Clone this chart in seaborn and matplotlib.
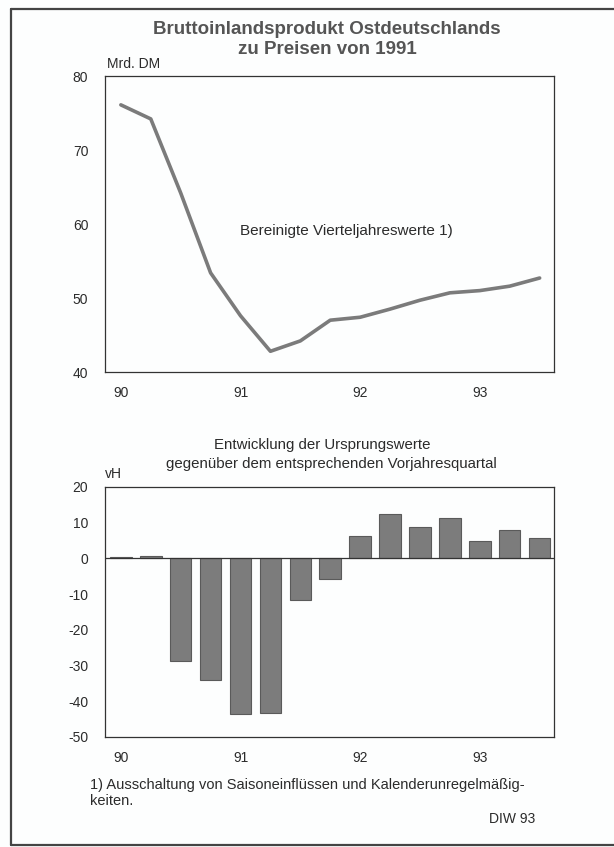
import seaborn as sns
import pandas as pd
import matplotlib.pyplot as plt
from matplotlib.lines import Line2D

quarters = ['90Q1', '90Q2', '90Q3', '90Q4', '91Q1', '91Q2', '91Q3', '91Q4',
            '92Q1', '92Q2', '92Q3', '92Q4', '93Q1', '93Q2', '93Q3']
gdp = [76.1, 74.2, 64.2, 53.4, 47.6, 42.8, 44.2, 47.0, 47.4, 48.5, 49.7, 50.7, 51.0, 51.6, 52.7]
change = [0.5, 0.8, -28.8, -34.1, -43.7, -43.4, -11.7, -5.7, 6.4, 12.3, 8.9, 11.4, 4.9, 7.9, 5.6]
year_labels = ['90', '91', '92', '93']

sns.set_style('white')
plt.rcParams['font.family'] = ['Liberation Sans', 'DejaVu Sans']
plt.rcParams['axes.unicode_minus'] = False

df = pd.DataFrame({'quarter': quarters, 'pos': range(len(quarters)),
                   'gdp': gdp, 'change': change})

W, H = 614, 847
fig = plt.figure(figsize=(W / 100, H / 100), dpi=100)
fig.patch.set_facecolor('#fdfefe')


def box(left, top, right, bottom):
    return [left / W, 1 - bottom / H, (right - left) / W, (bottom - top) / H]


ax1 = fig.add_axes(box(105, 76, 554, 372))
ax2 = fig.add_axes(box(105, 487, 554, 737))

txt = '#2b2b2b'
spine_c = '#333333'

sns.lineplot(data=df, x='pos', y='gdp', ax=ax1, color='#7b7b7b', linewidth=2.6)
sns.barplot(data=df, x='quarter', y='change', ax=ax2, color='#7c7c7c',
            edgecolor='#5a5a5a', linewidth=0.8, width=0.72, saturation=1)
ax2.axhline(0, color=spine_c, linewidth=0.9)

for ax in (ax1, ax2):
    ax.set_facecolor('#fdfefe')
    ax.set_xlim(-0.53, 14.48)
    ax.set_xlabel('')
    ax.set_ylabel('')
    for s in ax.spines.values():
        s.set_visible(True)
        s.set_color(spine_c)
        s.set_linewidth(0.9)
    ax.set_xticks(range(len(quarters)))
    ax.set_xticklabels([year_labels[i // 4] if i % 4 == 0 else '' for i in range(len(quarters))])
    ax.tick_params(axis='y', direction='out', length=6, width=0.8, color=spine_c,
                   labelsize=10, labelcolor=txt, pad=6)
    ax.tick_params(axis='x', direction='out', length=4, width=0.8, color=spine_c,
                   labelsize=10, labelcolor=txt, pad=6)

ax1.set_ylim(40, 80)
ax1.set_yticks([40, 50, 60, 70, 80])
ax2.set_ylim(-50, 20)
ax2.set_yticks(range(-50, 21, 10))

fig.text(327 / W, 1 - 30 / H, 'Bruttoinlandsprodukt Ostdeutschlands', ha='center', va='center',
         fontsize=13.5, fontweight='bold', color='#555555')
fig.text(327 / W, 1 - 50 / H, 'zu Preisen von 1991', ha='center', va='center',
         fontsize=13.5, fontweight='bold', color='#555555')
fig.text(107 / W, 1 - 64 / H, 'Mrd. DM', ha='left', va='center', fontsize=10, color=txt)
ax1.text(7.54, 59.0, 'Bereinigte Vierteljahreswerte 1)', ha='center', va='center',
         fontsize=11, color=txt)

fig.text(322 / W, 1 - 445 / H, 'Entwicklung der Ursprungswerte', ha='center', va='center',
         fontsize=10.8, color=txt)
fig.text(331 / W, 1 - 464 / H, 'gegenüber dem entsprechenden Vorjahresquartal', ha='center',
         va='center', fontsize=10.8, color=txt)
fig.text(105 / W, 1 - 474 / H, 'vH', ha='left', va='center', fontsize=10, color=txt)

fig.text(90 / W, 1 - 785 / H, '1) Ausschaltung von Saisoneinflüssen und Kalenderunregelmäßig-',
         ha='left', va='center', fontsize=10.5, color=txt)
fig.text(90 / W, 1 - 801 / H, 'keiten.', ha='left', va='center', fontsize=10.5, color=txt)
fig.text(535 / W, 1 - 819 / H, 'DIW 93', ha='right', va='center', fontsize=10, color=txt)

# outer frame
frame = dict(color='#444444', linewidth=1.6, transform=fig.transFigure)
fig.add_artist(Line2D([11 / W, 11 / W], [1 - 9 / H, 1 - 845 / H], **frame))
fig.add_artist(Line2D([11 / W, 614 / W], [1 - 9 / H, 1 - 9 / H], **frame))
fig.add_artist(Line2D([11 / W, 614 / W], [1 - 845 / H, 1 - 845 / H], **frame))

fig.savefig('out.png', dpi=100)
